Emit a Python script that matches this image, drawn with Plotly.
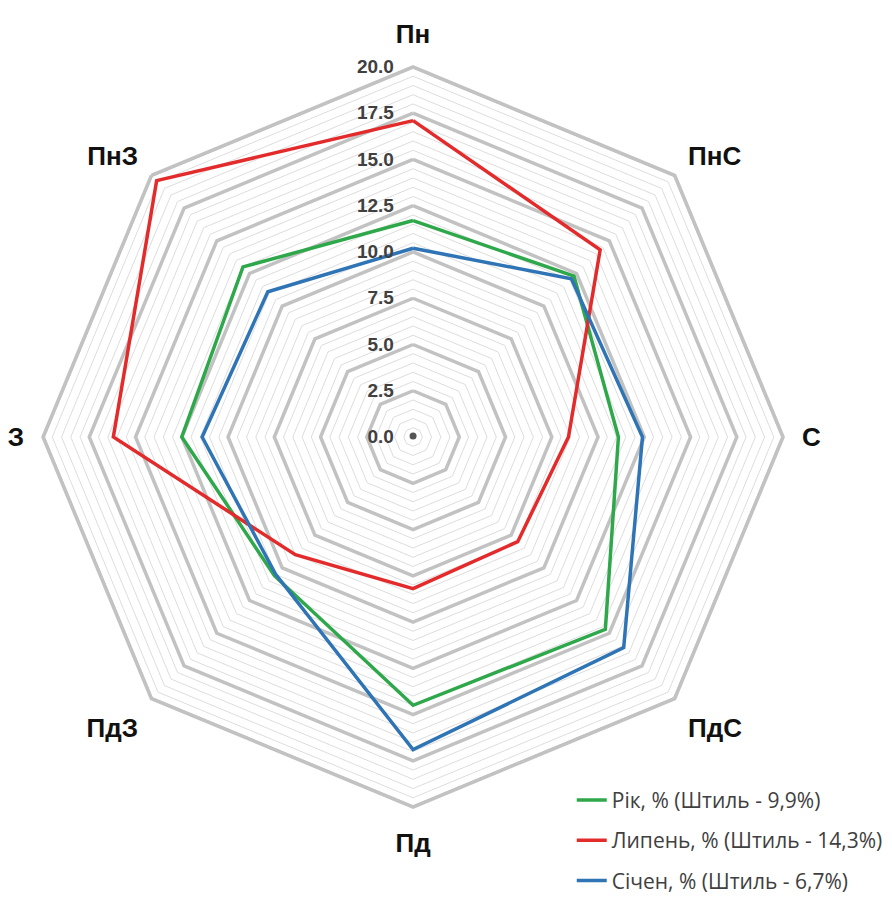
import plotly.graph_objects as go

directions = ["Пн", "ПнС", "С", "ПдС", "Пд", "ПдЗ", "З", "ПнЗ"]
year_vals = [11.7, 12.3, 11.1, 14.7, 14.5, 10.6, 12.5, 13.0]
july_vals = [17.1, 14.3, 8.4, 8.0, 8.2, 9.0, 16.2, 19.6]
jan_vals = [10.2, 12.1, 12.4, 16.1, 16.9, 10.5, 11.4, 11.1]
series_names = ["Рік, % (Штиль - 9,9%)", "Липень, % (Штиль - 14,3%)", "Січен, % (Штиль - 6,7%)"]
series_colors = ["#2EA84A", "#E32B2B", "#2F74B5"]
major_ticks = [2.5, 5.0, 7.5, 10.0, 12.5, 15.0, 17.5, 20.0]
tick_vals = [i * 0.5 for i in range(41)]
tick_text = [f"{v:.1f}" if abs(v / 2.5 - round(v / 2.5)) < 1e-9 else "" for v in tick_vals]

theta_closed = directions + [directions[0]]

fig = go.Figure()

# major grid rings
for m in major_ticks:
    fig.add_trace(go.Scatterpolar(
        r=[m] * (len(directions) + 1), theta=theta_closed, mode="lines",
        line=dict(color="#c2c2c2", width=3.5), hoverinfo="skip", showlegend=False,
        cliponaxis=False))

fig.add_trace(go.Scatterpolar(r=[0.05], theta=[directions[0]], mode="markers",
                              marker=dict(color="#555555", size=7), hoverinfo="skip", showlegend=False,
                              cliponaxis=False))

for name, vals, col, grp in zip(series_names, [year_vals, july_vals, jan_vals], series_colors, ["a", "b", "c"]):
    fig.add_trace(go.Scatterpolar(
        r=vals + [vals[0]], theta=theta_closed, mode="lines", name=name,
        legendgroup=grp, line=dict(color=col, width=3.5), cliponaxis=False))

fig.update_layout(
    width=892, height=899,
    paper_bgcolor="white",
    margin=dict(l=0, r=0, t=0, b=0),
    polar=dict(
        domain=dict(x=[0.0392, 0.869], y=[0.1112, 0.9344]),
        bgcolor="white",
        gridshape="linear",
        radialaxis=dict(
            range=[0, 20], tickvals=tick_vals, ticktext=tick_text,
            angle=90, tickangle=90, side="counterclockwise",
            showline=False, ticks="outside", ticklen=12, tickcolor="rgba(0,0,0,0)",
            gridcolor="#dddddd", gridwidth=1,
            tickfont=dict(family="Liberation Sans", size=19, color="#404040", weight="bold"),
        ),
        angularaxis=dict(
            direction="clockwise", rotation=90,
            showgrid=False, showline=True, linecolor="#c2c2c2", linewidth=3.5,
            ticks="outside", ticklen=12, tickcolor="rgba(0,0,0,0)",
            tickfont=dict(family="Liberation Sans", size=26, color="#111111", weight="bold"),
        ),
    ),
    legend=dict(
        x=0.632, y=0.1415, xanchor="left", yanchor="top",
        font=dict(family="Open Sans", size=21, color="#404040"),
        tracegroupgap=10, bgcolor="rgba(0,0,0,0)",
    ),
)

fig.write_html("out.html")
